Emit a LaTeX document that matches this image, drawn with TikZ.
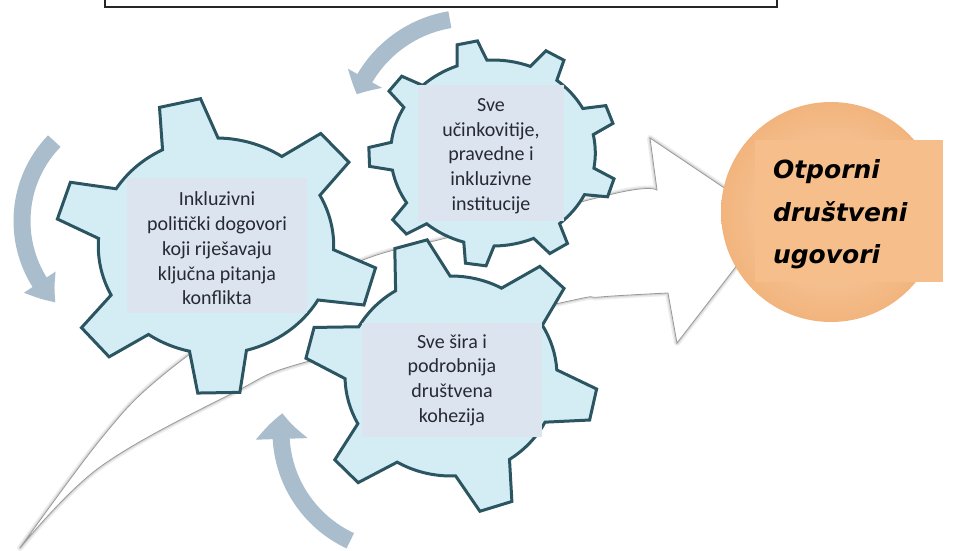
\documentclass[tikz,border=0pt]{standalone}
\usepackage{fontspec}
\setmainfont{Carlito}
\newfontfamily\circfont{DejaVu Sans Bold Oblique}
\usetikzlibrary{arrows.meta,bending}
\definecolor{gearfill}{HTML}{D4ECF4}
\definecolor{gearline}{HTML}{2C5562}
\definecolor{boxfill}{HTML}{DCE4F0}
\definecolor{swirl}{HTML}{AABDCC}
\definecolor{circin}{HTML}{F8D3AE}
\definecolor{circout}{HTML}{F2B47D}
\definecolor{circbox}{HTML}{F5BE8A}
\definecolor{txt}{HTML}{262A33}
\begin{document}
\begin{tikzpicture}[x=1pt,y=-1pt,
  gear/.style={fill=gearfill,draw=gearline,line width=3pt},
  gbox/.style={fill=boxfill,inner sep=0pt},
  gtext/.style={text=txt,align=center,inner sep=0pt,
    font=\fontsize{20}{24.7}\selectfont},
  swirlarr/.style={draw=swirl,line width=17pt},
  bigarrow/.style={fill=white,draw=black!40,line width=0.8pt,line join=miter}]
\useasboundingbox (0,0) rectangle (954,551);
\fill[white] (0,0) rectangle (954,551);

% top box
\node[draw=black!85,fill=white,line width=1.3pt,minimum width=672pt,minimum height=24pt,inner sep=0pt] (topbox) at (441,-5) {};

% big white arrow (soft shadow + body)
\def\arrowpath{(20,548) -- plot[smooth,tension=0.6] coordinates {(20,548) (100,440) (157,380) (250,314) (363,260) (450,237) (617,193) (657,190)}
  -- (650,138) -- (772,220) -- (677,343) -- (668,293)
  -- plot[smooth,tension=0.6] coordinates {(668,293) (600,297) (560,303) (313,360) (233,393) (100,467) (20,548)} -- cycle}
\draw[black!7,line width=6pt,line join=round] \arrowpath;
\draw[black!16,line width=3pt,line join=round] \arrowpath;
\path[bigarrow] \arrowpath;

% curved grey arrows
\draw[swirlarr,-{Triangle[width=38pt,length=18pt,bend]}] ([shift={(470,140)}]260.5:122) arc[start angle=260.5,end angle=202,radius=122];
\draw[swirlarr,-{Triangle[width=36pt,length=26pt,bend]}] ([shift={(137,221)}]224:115) arc[start angle=224,end angle=135,radius=115];
\draw[swirlarr,-{Triangle[width=50pt,length=26pt,bend]}] ([shift={(401,432)}]115:120) arc[start angle=115,end angle=189,radius=120];

% gear 1 (left)
\begin{scope}[shift={(216,246)},xscale=1.09]
\draw[gear] ({-103-14}:108)
  \foreach \a/\b in {-103/-42,-42/16,16/89,89/139,139/198,198/257} {
    -- ({\a-7.5}:148) -- ({\a+7.5}:148) -- ({\a+14}:108)
    arc[start angle=\a+14,end angle=\b-14,radius=108]
  } -- cycle;
\end{scope}
% gear 3 (bottom)
\begin{scope}[shift={(451,376)},xscale=1.06]
\draw[gear] ({-106-15.5}:100)
  \foreach \a/\b in {-106/-46,-46/12,12/72,72/136,136/194,194/254} {
    -- ({\a-6.6}:138) -- ({\a+6.6}:138) -- ({\a+15.5}:100)
    arc[start angle=\a+15.5,end angle=\b-15.5,radius=100]
  } -- cycle;
\end{scope}
% gear 2 (top)
\begin{scope}[shift={(493,153)},xscale=1.1]
\draw[gear] ({-102-8.6}:93)
  \foreach \a/\b in {-102/-60,-60/-20,-20/18,18/58,58/98,98/139,139/178,178/218,218/258} {
    -- ({\a-4.8}:113) -- ({\a+4.8}:113) -- ({\a+8.6}:93)
    arc[start angle=\a+8.6,end angle=\b-8.6,radius=93]
  } -- cycle;
\end{scope}

% gear labels
\node[gbox,minimum width=180pt,minimum height=135pt] (g1) at (217,245.5) {};
\node[gtext] (g1t) at ([yshift=-3pt]g1.center)
  {Inkluzivni\\politički dogovori\\koji riješavaju\\ključna pitanja\\konflikta};
\node[gbox,minimum width=146pt,minimum height=136pt] (g2) at (491,153) {};
\node[gtext] (g2t) at ([yshift=-3pt]g2.center)
  {Sve\\učinkovitije,\\pravedne i\\inkluzivne\\institucije};
\node[gbox,minimum width=180pt,minimum height=114pt] (g3) at (452,380) {};
\node[gtext] (g3t) at (g3.center)
  {Sve šira i\\podrobnija\\društvena\\kohezija};

% goal circle
\node[circle,minimum size=220pt,inner sep=0pt,shading=radial,inner color=circin,outer color=circout] (goal) at (831,212) {};
\node[fill=circbox,minimum width=188pt,minimum height=142pt,inner sep=0pt] (goalbox) at (849,211) {};
\node[text width=160pt,align=left,inner sep=0pt,
  font=\circfont\fontsize{25}{42.5}\selectfont] (goaltext) at (853,214.5)
  {Otporni\\društveni\\ugovori};
\end{tikzpicture}
\end{document}
